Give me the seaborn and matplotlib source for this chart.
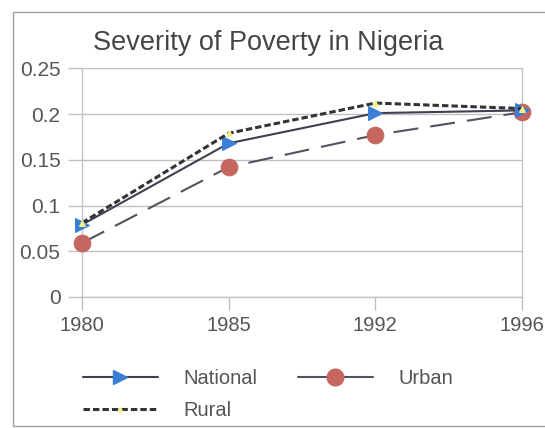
import pandas as pd
import numpy as np
import matplotlib
matplotlib.use("Agg")
import matplotlib.pyplot as plt
import seaborn as sns
from matplotlib.patches import Rectangle
from matplotlib.lines import Line2D

# data
years = ["1980", "1985", "1992", "1996"]
national = [0.079, 0.168, 0.201, 0.204]
urban = [0.059, 0.142, 0.177, 0.202]
rural = [0.081, 0.179, 0.212, 0.206]
y_ticks = [0, 0.05, 0.1, 0.15, 0.2, 0.25]
y_labels = ["0", "0.05", "0.1", "0.15", "0.2", "0.25"]

sns.set_theme(style="white")
plt.rcParams['font.family'] = ['Liberation Sans', 'DejaVu Sans']

df = pd.DataFrame({"Year": years, "National": national, "Urban": urban, "Rural": rural})

W, H = 545, 428
fig = plt.figure(figsize=(W/100, H/100), dpi=100)
ax = fig.add_axes([82/W, 1 - 297/H, (522-82)/W, (297-68.3)/H])

# outer chart border
fig.patches.append(Rectangle((13/W, 1 - 426/H), 1.2, (426-11.5)/H, transform=fig.transFigure,
                             fill=False, edgecolor="#a0a0a0", lw=1.0))

nat_line = "#3d4150"
urb_line = "#50545e"
rur_line = "#333333"
nat_mk = "#3a7fd5"
urb_mk = "#c6675f"
rur_mk = "#f4f08c"

sns.lineplot(data=df, x="Year", y="Urban", ax=ax, color=urb_line, lw=1.5,
             linestyle=(0, (12, 5.8)), marker="o", markersize=12,
             markerfacecolor=urb_mk, markeredgecolor=urb_mk, zorder=3, clip_on=False)
sns.lineplot(data=df, x="Year", y="National", ax=ax, color=nat_line, lw=1.5,
             marker=">", markersize=10.5,
             markerfacecolor=nat_mk, markeredgecolor=nat_mk, zorder=4, clip_on=False)
sns.lineplot(data=df, x="Year", y="Rural", ax=ax, color=rur_line, lw=2.2,
             linestyle=(0, (2.1, 1.0)), marker="^", markersize=4,
             markerfacecolor=rur_mk, markeredgecolor=rur_mk, zorder=5, clip_on=False)

ax.set_xlim(0, 3)
ax.set_ylim(0, 0.25)
ax.set_yticks(y_ticks)
ax.set_yticklabels(y_labels)
ax.set_xlabel("")
ax.set_ylabel("")
ax.yaxis.grid(True, color="#c0c0c0", lw=1.0)
ax.xaxis.grid(False)
ax.spines["top"].set_visible(False)
for s in ["left", "right", "bottom"]:
    ax.spines[s].set_color("#c4c4c4")
    ax.spines[s].set_linewidth(1.0)
ax.tick_params(axis="y", length=10, width=1.0, color="#c0c0c0", labelsize=15,
               labelcolor="#555555", pad=5.5, left=True)
ax.tick_params(axis="x", length=9, width=1.0, color="#c0c0c0", labelsize=14.5,
               labelcolor="#555555", pad=5, bottom=True)

fig.text(268/W, 1 - 43/H, "Severity of Poverty in Nigeria", ha="center", va="center",
         fontsize=19.5, color="#454545")

handles = [
    Line2D([], [], color=nat_line, lw=1.5, marker=">", markersize=10.5,
           markerfacecolor=nat_mk, markeredgecolor=nat_mk),
    Line2D([], [], color=rur_line, lw=2.2, linestyle=(0, (2.1, 1.0)), marker="^", markersize=3,
           markerfacecolor=rur_mk, markeredgecolor=rur_mk),
    Line2D([], [], color=urb_line, lw=1.5, marker="o", markersize=12,
           markerfacecolor=urb_mk, markeredgecolor=urb_mk),
]
fig.legend(handles, ["National", "Rural", "Urban"], ncol=2, loc="upper left",
           bbox_to_anchor=(73/W, 1 - 359/H), frameon=False, fontsize=14.5, borderpad=0,
           handlelength=3.7, handletextpad=1.3, columnspacing=2.0, labelspacing=0.62,
           labelcolor="#555555")

fig.savefig("out.png", dpi=100)
